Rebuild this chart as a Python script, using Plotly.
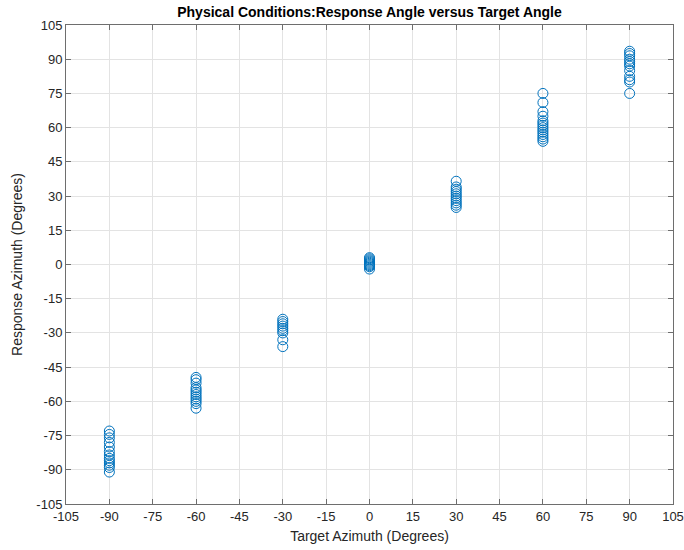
import plotly.graph_objects as go

# Target azimuths (degrees) and the response azimuths recorded at each one
target_angles = [-90, -60, -30, 0, 30, 60, 90]

resp_m90 = [-73, -74.5, -76, -78, -80, -82, -83.5, -85, -86, -87, -88, -89, -91]
resp_m60 = [-49.5, -50.5, -52, -54, -55, -56, -57, -58, -59, -60, -61, -63]
resp_m30 = [-24, -25, -26, -27, -28, -29, -30, -33, -36]
resp_0 = [3, 2.5, 2, 1.5, 1, 0.5, 0, -0.5, -1, -2]
resp_30 = [36.5, 34, 33, 32, 31, 30, 29, 28, 27, 26, 25]
resp_60 = [75, 71, 67, 65, 63, 62, 61, 60, 59, 58, 57, 56, 55, 54]
resp_90 = [93.5, 92.5, 91.5, 90, 89, 88, 87, 85, 82.5, 81, 80, 75]

responses = [resp_m90, resp_m60, resp_m30, resp_0, resp_30, resp_60, resp_90]

tick_vals = list(range(-105, 106, 15))

xs, ys = [], []
for t, r in zip(target_angles, responses):
    xs.extend([t] * len(r))
    ys.extend(r)

fig = go.Figure(
    go.Scatter(
        x=xs,
        y=ys,
        mode="markers",
        marker=dict(
            symbol="circle-open",
            size=10,
            color="#0072BD",
            line=dict(width=1, color="#0072BD"),
        ),
        showlegend=False,
    )
)

axis_common = dict(
    range=[-105, 105],
    tickmode="array",
    tickvals=tick_vals,
    ticktext=[str(v) for v in tick_vals],
    showgrid=True,
    gridcolor="#e3e3e3",
    gridwidth=1,
    zeroline=False,
    showline=True,
    linecolor="#6e6e6e",
    linewidth=1,
    mirror="ticks",
    ticks="inside",
    ticklen=5,
    tickcolor="#6e6e6e",
    automargin=False,
    tickfont=dict(family="Liberation Sans, Arial, sans-serif", size=13, color="#262626"),
)

fig.update_xaxes(
    **axis_common,
    title=dict(
        text="Target Azimuth (Degrees)",
        font=dict(family="Liberation Sans, Arial, sans-serif", size=14, color="#262626"),
        standoff=8,
    ),
)
fig.update_yaxes(
    **axis_common,
    title=dict(
        text="Response Azimuth (Degrees)",
        font=dict(family="Liberation Sans, Arial, sans-serif", size=14, color="#262626"),
        standoff=10,
    ),
)

fig.update_layout(
    width=684,
    height=550,
    margin=dict(l=66, r=11, t=25, b=46),
    paper_bgcolor="white",
    plot_bgcolor="white",
    title=dict(
        text="<b>Physical Conditions:Response Angle versus Target Angle</b>",
        font=dict(family="Liberation Sans, Arial, sans-serif", size=14, color="#000000"),
        x=(66 + 673) / 2 / 684,
        xanchor="center",
        y=1 - 12 / 550,
        yanchor="middle",
    ),
)

fig.write_html("out.html")
